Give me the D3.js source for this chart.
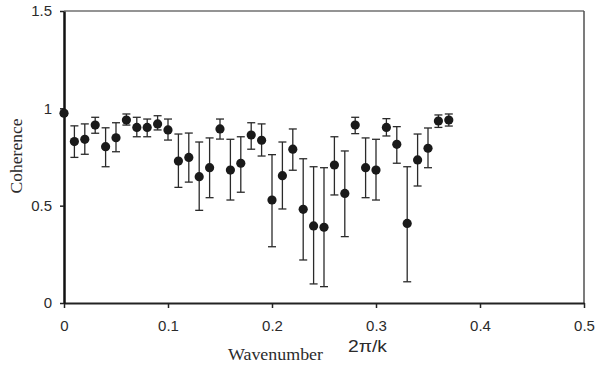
<!DOCTYPE html>
<html>
<head>
<meta charset="utf-8">
<script src="https://cdn.jsdelivr.net/npm/d3@7"></script>
<style>
  html, body { margin: 0; padding: 0; background: #fff; }
  svg { display: block; }
</style>
</head>
<body>
<svg id="chart" width="599" height="372"></svg>
<script>
// ---- data ----
const wavenumber = [0.00,0.01,0.02,0.03,0.04,0.05,0.06,0.07,0.08,0.09,
                    0.10,0.11,0.12,0.13,0.14,0.15,0.16,0.17,0.18,0.19,
                    0.20,0.21,0.22,0.23,0.24,0.25,0.26,0.27,0.28,0.29,
                    0.30,0.31,0.32,0.33,0.34,0.35,0.36,0.37];
const coherence  = [0.975,0.829,0.841,0.914,0.803,0.849,0.940,0.902,0.902,0.920,
                    0.889,0.729,0.748,0.649,0.695,0.894,0.683,0.718,0.863,0.836,
                    0.529,0.654,0.790,0.481,0.396,0.389,0.709,0.563,0.914,0.695,
                    0.683,0.902,0.815,0.409,0.735,0.795,0.935,0.940];
const upper      = [0.985,0.910,0.920,0.954,0.900,0.926,0.971,0.954,0.945,0.962,
                    0.945,0.868,0.873,0.827,0.848,0.945,0.841,0.854,0.926,0.920,
                    0.762,0.827,0.894,0.741,0.700,0.695,0.854,0.781,0.954,0.848,
                    0.841,0.947,0.906,0.700,0.868,0.899,0.966,0.971];
const lower      = [0.965,0.748,0.764,0.872,0.700,0.777,0.914,0.854,0.854,0.889,
                    0.837,0.594,0.621,0.476,0.541,0.842,0.529,0.569,0.790,0.755,
                    0.289,0.483,0.682,0.221,0.098,0.084,0.555,0.341,0.870,0.541,
                    0.529,0.858,0.718,0.109,0.601,0.695,0.902,0.909];
const xTicks = [0, 0.1, 0.2, 0.3, 0.4, 0.5];
const xTickLabels = ["0", "0.1", "0.2", "0.3", "0.4", "0.5"];
const yTicks = [0, 0.5, 1, 1.5];
const yTickLabels = ["0", "0.5", "1", "1.5"];
const xTitle = "Wavenumber";
const xTitleUnit = "2\u03C0/k";
const yTitle = "Coherence";

(function () {
const points = wavenumber.map((w, i) => ({ x: w, y: coherence[i], hi: upper[i], lo: lower[i] }));

// ---- layout ----
const svg = d3.select("#chart");
const pLeft = 64, pRight = 584, pTop = 11, pBottom = 303;
const x = d3.scaleLinear().domain([0, 0.5]).range([pLeft, pRight]);
const y = d3.scaleLinear().domain([0, 1.5]).range([pBottom, pTop]);

// top & right frame lines (grey)
svg.append("line").attr("x1", pLeft).attr("x2", pRight).attr("y1", pTop).attr("y2", pTop)
  .attr("stroke", "#707070").attr("stroke-width", 1.5);
svg.append("line").attr("x1", pRight).attr("x2", pRight).attr("y1", pTop).attr("y2", pBottom)
  .attr("stroke", "#505050").attr("stroke-width", 1.5);

// axes
const xAxis = d3.axisBottom(x).tickValues(xTicks)
  .tickFormat((d, i) => xTickLabels[i]).tickSizeInner(5).tickSizeOuter(0).tickPadding(12);
const gx = svg.append("g").attr("transform", `translate(0,${pBottom})`).call(xAxis);
gx.select(".domain").attr("stroke", "#222").attr("stroke-width", 2);
gx.selectAll(".tick line").attr("stroke", "#222").attr("stroke-width", 1.5);
gx.selectAll(".tick text").attr("font-family", "'Liberation Sans', Arial, sans-serif")
  .attr("font-size", 15).attr("fill", "#2b2b2b");

const yAxis = d3.axisLeft(y).tickValues(yTicks)
  .tickFormat((d, i) => yTickLabels[i]).tickSizeInner(4).tickSizeOuter(0).tickPadding(8);
const gy = svg.append("g").attr("transform", `translate(${pLeft},0)`).call(yAxis);
gy.select(".domain").attr("stroke", "#111").attr("stroke-width", 2.5);
gy.selectAll(".tick line").attr("stroke", "#222").attr("stroke-width", 1.5);
gy.selectAll(".tick text").attr("font-family", "'Liberation Sans', Arial, sans-serif")
  .attr("font-size", 15).attr("fill", "#2b2b2b");

// error bars
const capW = 4;
const eb = svg.append("g").attr("stroke", "#2a2a2a").attr("stroke-width", 1.3).attr("fill", "none");
eb.selectAll("line.v").data(points).join("line").attr("class", "v")
  .attr("x1", d => x(d.x)).attr("x2", d => x(d.x))
  .attr("y1", d => y(d.hi)).attr("y2", d => y(d.lo));
eb.selectAll("line.t").data(points).join("line").attr("class", "t")
  .attr("x1", d => x(d.x) - capW).attr("x2", d => x(d.x) + capW)
  .attr("y1", d => y(d.hi)).attr("y2", d => y(d.hi));
eb.selectAll("line.b").data(points).join("line").attr("class", "b")
  .attr("x1", d => x(d.x) - capW).attr("x2", d => x(d.x) + capW)
  .attr("y1", d => y(d.lo)).attr("y2", d => y(d.lo));

// points
svg.append("g").selectAll("circle").data(points).join("circle")
  .attr("cx", d => x(d.x)).attr("cy", d => y(d.y)).attr("r", 4.6)
  .attr("fill", "#1a1a1a");

// titles
svg.append("text").attr("x", 228).attr("y", 360)
  .attr("font-family", "'Liberation Serif', 'Times New Roman', serif")
  .attr("font-size", 16).attr("fill", "#2b2b2b")
  .attr("textLength", 95).attr("lengthAdjust", "spacingAndGlyphs")
  .text(xTitle);
svg.append("text").attr("x", 348).attr("y", 352)
  .attr("font-family", "'Liberation Sans', Arial, sans-serif")
  .attr("font-size", 16).attr("fill", "#2b2b2b")
  .attr("textLength", 39).attr("lengthAdjust", "spacingAndGlyphs")
  .text(xTitleUnit);
svg.append("text")
  .attr("transform", "translate(22,156) rotate(-90)")
  .attr("text-anchor", "middle")
  .attr("font-family", "'Liberation Serif', 'Times New Roman', serif")
  .attr("font-size", 17).attr("fill", "#2b2b2b")
  .attr("textLength", 75).attr("lengthAdjust", "spacingAndGlyphs")
  .text(yTitle);
})();
</script>
</body>
</html>
